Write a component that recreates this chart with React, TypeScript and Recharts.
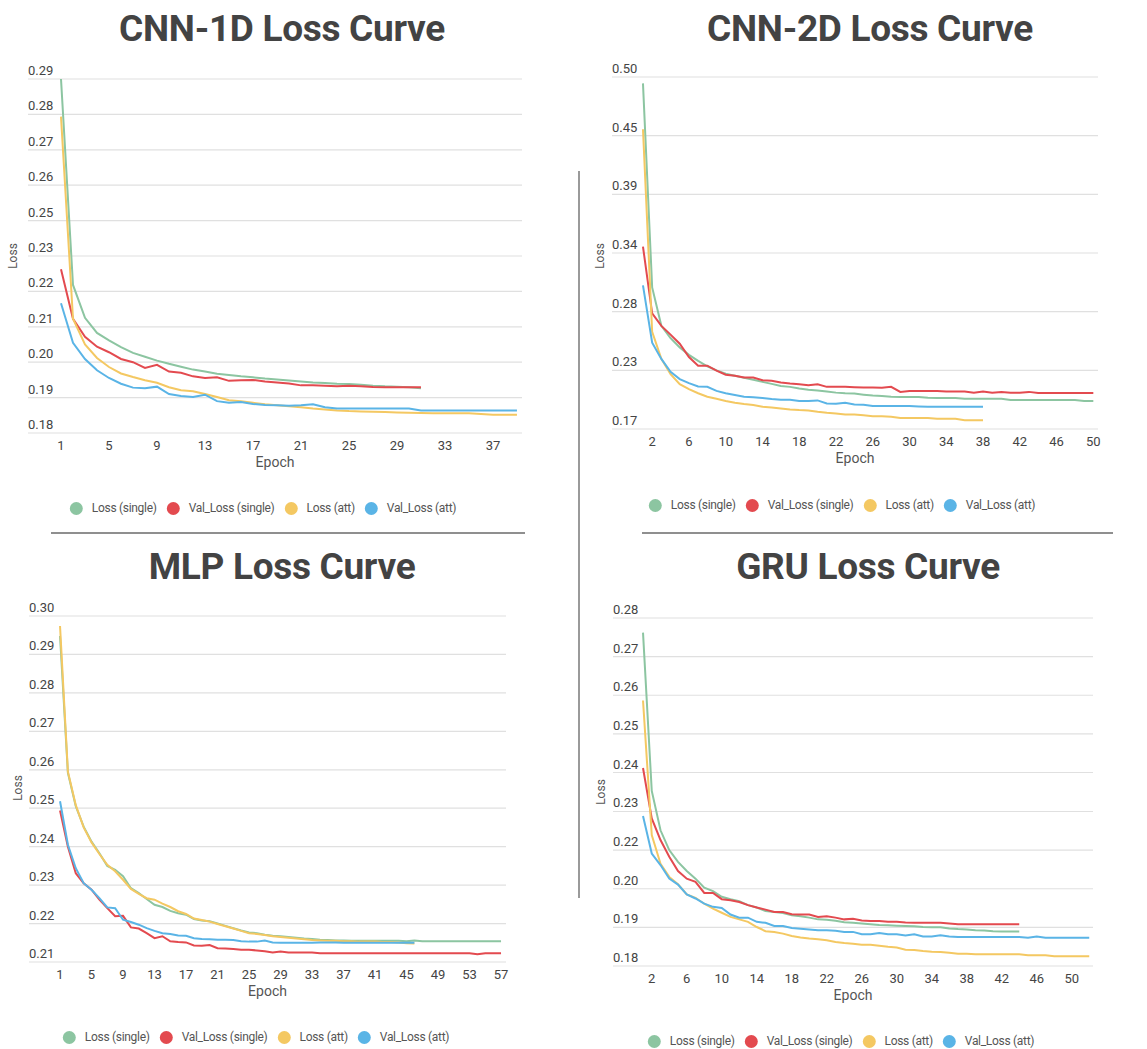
import React from 'react';
import { LineChart, Line, XAxis, YAxis, CartesianGrid } from 'recharts';

// shared series info
const seriesKeys = ['lossSingle', 'valSingle', 'lossAtt', 'valAtt'];
const seriesNames = ['Loss (single)', 'Val_Loss (single)', 'Loss (att)', 'Val_Loss (att)'];
const seriesColors = ['#8cc5a1', '#e34a4f', '#f4c862', '#5ab4e6'];

// CNN-1D
const cnn1dLossSingle = [0.290, 0.226, 0.2158, 0.2111, 0.2088, 0.2067, 0.2049, 0.2037, 0.2025, 0.2015, 0.2006, 0.1997, 0.1991, 0.1984, 0.198, 0.1976, 0.1973, 0.1969, 0.1966, 0.1963, 0.196, 0.1957, 0.1955, 0.1953, 0.1952, 0.195, 0.1947, 0.1945, 0.1944, 0.1942, 0.1939];
const cnn1dValSingle = [0.2309, 0.2155, 0.2099, 0.2068, 0.2051, 0.203, 0.202, 0.2002, 0.2012, 0.1991, 0.1987, 0.1976, 0.1971, 0.1973, 0.1962, 0.1964, 0.1965, 0.196, 0.1957, 0.1954, 0.1948, 0.1948, 0.1947, 0.1945, 0.1947, 0.1945, 0.1943, 0.1942, 0.1942, 0.1942, 0.1942];
const cnn1dLossAtt = [0.2783, 0.2155, 0.2075, 0.2033, 0.2005, 0.1985, 0.1974, 0.1964, 0.1956, 0.1942, 0.1933, 0.193, 0.1921, 0.1912, 0.1902, 0.1899, 0.1894, 0.1889, 0.1886, 0.1883, 0.188, 0.1876, 0.1873, 0.187, 0.1868, 0.1867, 0.1866, 0.1865, 0.1864, 0.1863, 0.1862, 0.1861, 0.1861, 0.1861, 0.1861, 0.1859, 0.1857, 0.1857, 0.1857];
const cnn1dValAtt = [0.2203, 0.208, 0.203, 0.1995, 0.1971, 0.1953, 0.1941, 0.1939, 0.1944, 0.1921, 0.1915, 0.1912, 0.1919, 0.1899, 0.1894, 0.1896, 0.189, 0.1887, 0.1886, 0.1885, 0.1886, 0.1889, 0.188, 0.1876, 0.1876, 0.1876, 0.1876, 0.1876, 0.1876, 0.1876, 0.187, 0.187, 0.187, 0.187, 0.187, 0.187, 0.187, 0.187, 0.187];
const cnn1dYTicks = [0.18, 0.191, 0.202, 0.213, 0.224, 0.235, 0.246, 0.257, 0.268, 0.279, 0.29];
const cnn1dYLabels = ['0.18', '0.19', '0.20', '0.21', '0.22', '0.23', '0.25', '0.26', '0.27', '0.28', '0.29'];
const cnn1dXTicks = [1, 5, 9, 13, 17, 21, 25, 29, 33, 37];

// CNN-2D
const cnn2dLossSingle = [0.494, 0.3027, 0.2667, 0.2553, 0.2465, 0.2395, 0.2338, 0.2288, 0.225, 0.2218, 0.2199, 0.218, 0.2161, 0.2142, 0.2123, 0.2104, 0.2095, 0.2079, 0.2067, 0.206, 0.2051, 0.2041, 0.2035, 0.2032, 0.2022, 0.2013, 0.201, 0.2003, 0.2, 0.2, 0.2, 0.1994, 0.1991, 0.1991, 0.1991, 0.1984, 0.1984, 0.1984, 0.1984, 0.1984, 0.1972, 0.1972, 0.1972, 0.1972, 0.1972, 0.1972, 0.1972, 0.1972, 0.1962, 0.1962];
const cnn2dValSingle = [0.341, 0.2784, 0.2667, 0.2585, 0.25, 0.2375, 0.2294, 0.2294, 0.2247, 0.2209, 0.2199, 0.2183, 0.2183, 0.2158, 0.2152, 0.2136, 0.2127, 0.212, 0.2111, 0.212, 0.2095, 0.2095, 0.2095, 0.2092, 0.2089, 0.2089, 0.2086, 0.2095, 0.2048, 0.2057, 0.2057, 0.2057, 0.2057, 0.2051, 0.2051, 0.2051, 0.2041, 0.2051, 0.2041, 0.2048, 0.2041, 0.2041, 0.2048, 0.2038, 0.2038, 0.2038, 0.2038, 0.2038, 0.2038, 0.2038];
const cnn2dLossAtt = [0.451, 0.261, 0.2357, 0.2215, 0.212, 0.2073, 0.2035, 0.2003, 0.1984, 0.1962, 0.1946, 0.1934, 0.1924, 0.1909, 0.1902, 0.1893, 0.1883, 0.1877, 0.1874, 0.1861, 0.1852, 0.1845, 0.1836, 0.1836, 0.183, 0.182, 0.182, 0.1814, 0.1804, 0.1804, 0.1804, 0.1804, 0.1795, 0.1795, 0.1795, 0.1782, 0.1782, 0.1782];
const cnn2dValAtt = [0.3046, 0.2509, 0.2357, 0.2237, 0.2168, 0.213, 0.2098, 0.2095, 0.2057, 0.2035, 0.2019, 0.2003, 0.1997, 0.1991, 0.1981, 0.1975, 0.1975, 0.1962, 0.1962, 0.1968, 0.194, 0.1937, 0.1946, 0.193, 0.1927, 0.1915, 0.1915, 0.1915, 0.1915, 0.1915, 0.1912, 0.1909, 0.1909, 0.1909, 0.1909, 0.1909, 0.1909, 0.1909];
const cnn2dYTicks = [0.17, 0.225, 0.28, 0.335, 0.39, 0.445, 0.5];
const cnn2dYLabels = ['0.17', '0.23', '0.28', '0.34', '0.39', '0.45', '0.50'];
const cnn2dXTicks = [2, 6, 10, 14, 18, 22, 26, 30, 34, 38, 42, 46, 50];

// MLP
const mlpLossSingle = [0.2948, 0.2592, 0.2505, 0.2452, 0.2413, 0.2383, 0.235, 0.234, 0.2323, 0.2292, 0.2279, 0.2264, 0.2249, 0.2243, 0.2233, 0.2227, 0.2223, 0.2212, 0.2208, 0.2206, 0.22, 0.2194, 0.2188, 0.2182, 0.2177, 0.2175, 0.2171, 0.2168, 0.2167, 0.2165, 0.2163, 0.2161, 0.216, 0.2158, 0.2157, 0.2156, 0.2156, 0.2155, 0.2155, 0.2155, 0.2155, 0.2155, 0.2155, 0.2155, 0.2154, 0.2156, 0.2154, 0.2154, 0.2154, 0.2154, 0.2154, 0.2154, 0.2154, 0.2154, 0.2154, 0.2154, 0.2154];
const mlpValSingle = [0.2494, 0.24, 0.2331, 0.2305, 0.2288, 0.2262, 0.224, 0.2219, 0.222, 0.219, 0.2187, 0.2175, 0.2162, 0.2167, 0.2154, 0.2152, 0.2151, 0.2143, 0.2142, 0.2144, 0.2136, 0.2135, 0.2134, 0.2132, 0.2132, 0.213, 0.2128, 0.2125, 0.2127, 0.2125, 0.2125, 0.2125, 0.2125, 0.2123, 0.2123, 0.2123, 0.2123, 0.2123, 0.2123, 0.2123, 0.2123, 0.2123, 0.2123, 0.2123, 0.2123, 0.2123, 0.2123, 0.2123, 0.2123, 0.2123, 0.2123, 0.2123, 0.2123, 0.212, 0.2123, 0.2123, 0.2123];
const mlpLossAtt = [0.2974, 0.2595, 0.2508, 0.245, 0.2411, 0.2381, 0.2353, 0.2336, 0.2314, 0.229, 0.2277, 0.2266, 0.2262, 0.2252, 0.2243, 0.2232, 0.2225, 0.2213, 0.2209, 0.2205, 0.2199, 0.2193, 0.2187, 0.2181, 0.2175, 0.2173, 0.217, 0.2167, 0.2165, 0.2163, 0.2161, 0.2159, 0.2157, 0.2156, 0.2155, 0.2155, 0.2154, 0.2154, 0.2153, 0.2153, 0.2153, 0.2152, 0.2152, 0.2151, 0.2149, 0.2148];
const mlpValAtt = [0.2518, 0.2405, 0.2344, 0.2305, 0.2288, 0.2266, 0.2242, 0.224, 0.221, 0.2204, 0.2197, 0.2188, 0.2181, 0.2175, 0.2173, 0.2169, 0.2168, 0.2162, 0.216, 0.2159, 0.2158, 0.2158, 0.2157, 0.2154, 0.2153, 0.2153, 0.2156, 0.2151, 0.215, 0.215, 0.215, 0.215, 0.215, 0.2151, 0.2151, 0.2151, 0.215, 0.215, 0.215, 0.215, 0.215, 0.215, 0.215, 0.215, 0.215, 0.215];
const mlpYTicks = [0.21, 0.22, 0.23, 0.24, 0.25, 0.26, 0.27, 0.28, 0.29, 0.3];
const mlpYLabels = ['0.21', '0.22', '0.23', '0.24', '0.25', '0.26', '0.27', '0.28', '0.29', '0.30'];
const mlpXTicks = [1, 5, 9, 13, 17, 21, 25, 29, 33, 37, 41, 45, 49, 53, 57];

// GRU
const gruLossSingle = [0.2758, 0.2303, 0.219, 0.2133, 0.2099, 0.2073, 0.2051, 0.2025, 0.2015, 0.1999, 0.1992, 0.1986, 0.1975, 0.1968, 0.1958, 0.1955, 0.1952, 0.1946, 0.1943, 0.1939, 0.1934, 0.1933, 0.193, 0.1926, 0.1924, 0.1922, 0.192, 0.1918, 0.1917, 0.1916, 0.1915, 0.1914, 0.1912, 0.1911, 0.1911, 0.1908, 0.1906, 0.1905, 0.1903, 0.1902, 0.19, 0.1899, 0.1899, 0.1899];
const gruValSingle = [0.2369, 0.2224, 0.2162, 0.2114, 0.2073, 0.2051, 0.2042, 0.201, 0.201, 0.1992, 0.1989, 0.1984, 0.1975, 0.1968, 0.1962, 0.1955, 0.1955, 0.1949, 0.1948, 0.1948, 0.1941, 0.1943, 0.1939, 0.1934, 0.1936, 0.1931, 0.1929, 0.1929, 0.1927, 0.1927, 0.1925, 0.1924, 0.1924, 0.1924, 0.1924, 0.1922, 0.192, 0.192, 0.192, 0.192, 0.192, 0.192, 0.192, 0.192];
const gruLossAtt = [0.2563, 0.2176, 0.2094, 0.2056, 0.2035, 0.2006, 0.1996, 0.1979, 0.1965, 0.1953, 0.1941, 0.1934, 0.1927, 0.1912, 0.19, 0.1898, 0.1893, 0.1886, 0.1882, 0.1879, 0.1877, 0.1874, 0.1869, 0.1866, 0.1864, 0.1861, 0.1861, 0.1858, 0.1855, 0.1853, 0.1847, 0.1846, 0.1843, 0.1841, 0.184, 0.1838, 0.1835, 0.1835, 0.1834, 0.1834, 0.1834, 0.1834, 0.1834, 0.1834, 0.1831, 0.1831, 0.1831, 0.1828, 0.1828, 0.1828, 0.1828, 0.1828];
const gruValAtt = [0.2231, 0.2123, 0.209, 0.2051, 0.2034, 0.2006, 0.1994, 0.1979, 0.197, 0.1967, 0.1948, 0.1939, 0.1939, 0.1927, 0.1924, 0.1915, 0.1915, 0.1909, 0.1907, 0.1905, 0.1903, 0.1903, 0.1901, 0.1898, 0.1898, 0.1891, 0.1891, 0.1895, 0.1891, 0.1891, 0.1888, 0.1891, 0.1885, 0.1885, 0.1888, 0.1885, 0.1883, 0.1883, 0.1883, 0.1883, 0.1883, 0.1883, 0.1883, 0.1883, 0.1881, 0.1885, 0.1881, 0.1881, 0.1881, 0.1881, 0.1881, 0.1881];
const gruYTicks = [0.18, 0.1911, 0.2022, 0.2133, 0.2244, 0.2356, 0.2467, 0.2578, 0.2689, 0.28];
const gruYLabels = ['0.18', '0.19', '0.20', '0.22', '0.23', '0.24', '0.25', '0.26', '0.27', '0.28'];
const gruXTicks = [2, 6, 10, 14, 18, 22, 26, 30, 34, 38, 42, 46, 50];

const PAD = 20;
const AXIS_H = 40;

function buildRows(series: number[][]) {
  const n = Math.max(...series.map((s) => s.length));
  return Array.from({ length: n }, (_, i) => {
    const row: Record<string, number | undefined> = { epoch: i + 1 };
    series.forEach((s, k) => {
      row[seriesKeys[k]] = s[i];
    });
    return row;
  });
}

type Box = { l: number; r: number; t: number; b: number };

interface PanelProps {
  title: string;
  series: number[][];
  yTicks: number[];
  yLabels: string[];
  xTicks: number[];
  xDomain: [number, number];
  plot: Box;
  titleX: number;
  titleTop: number;
  legendX: number;
  legendY: number;
  lossX: number;
  lossY: number;
}

const Panel: React.FC<PanelProps> = ({ title, series, yTicks, yLabels, xTicks, xDomain, plot, titleX, titleTop, legendX, legendY, lossX, lossY }) => {
  const rows = buildRows(series);
  const yTick = (props: any) => {
    let idx = yTicks.indexOf(props.payload?.value);
    if (idx < 0) idx = props.index;
    return (
      <text x={PAD} y={props.y - 4} fill="#444" fontSize={13} textAnchor="start">
        {yLabels[idx]}
      </text>
    );
  };
  return (
    <>
      <div
        style={{
          position: 'absolute', left: titleX - 260, top: titleTop, width: 520, textAlign: 'center',
          fontSize: 37, lineHeight: '37px', fontWeight: 700, color: '#434343', letterSpacing: -0.3,
        }}
      >
        {title}
      </div>
      <div
        style={{
          position: 'absolute', left: lossX, top: lossY, fontSize: 12, color: '#555',
          transform: 'translate(-50%, -50%) rotate(-90deg)', whiteSpace: 'nowrap',
        }}
      >
        Loss
      </div>
      <div style={{ position: 'absolute', left: plot.l - PAD, top: plot.t - PAD }}>
        <LineChart
          width={plot.r - plot.l + 2 * PAD}
          height={plot.b - plot.t + PAD + AXIS_H + 4}
          data={rows}
          margin={{ top: PAD, right: PAD, bottom: 4, left: PAD - 1 }}
        >
          <CartesianGrid vertical={false} stroke="#e0e0e0" strokeWidth={1.2} />
          <XAxis
            dataKey="epoch"
            type="number"
            domain={xDomain}
            ticks={xTicks}
            interval={0}
            allowDataOverflow
            axisLine={false}
            tickLine={false}
            height={AXIS_H}
            tick={{ fontSize: 13, fill: '#444' }}
            label={{ value: 'Epoch', position: 'insideBottom', offset: 6, fill: '#555', fontSize: 14 }}
          />
          <YAxis
            type="number"
            domain={[yTicks[0], yTicks[yTicks.length - 1]]}
            ticks={yTicks}
            interval={0}
            allowDataOverflow
            width={1}
            axisLine={false}
            tickLine={false}
            tick={yTick}
          />
          {seriesKeys.map((k, i) => (
            <Line
              key={k}
              type="linear"
              dataKey={k}
              name={seriesNames[i]}
              stroke={seriesColors[i]}
              strokeWidth={2}
              dot={false}
              isAnimationActive={false}
            />
          ))}
        </LineChart>
      </div>
      <div
        style={{
          position: 'absolute', left: legendX, top: legendY, transform: 'translate(-50%, -50%)',
          display: 'flex', alignItems: 'center', whiteSpace: 'nowrap', fontSize: 12, color: '#555', letterSpacing: -0.3,
        }}
      >
        {seriesNames.map((n, i) => (
          <div key={n} style={{ display: 'flex', alignItems: 'center', marginRight: i < 3 ? 10 : 0 }}>
            <span style={{ width: 13, height: 13, borderRadius: '50%', background: seriesColors[i], marginRight: 9, display: 'inline-block' }} />
            <span>{n}</span>
          </div>
        ))}
      </div>
    </>
  );
};

export default function App() {
  return (
    <div
      style={{
        position: 'absolute', left: 0, top: 0, width: 1147, height: 1049, background: '#fff',
        fontFamily: 'Roboto, "Noto Sans", sans-serif', overflow: 'hidden',
      }}
    >
      <Panel
        title="CNN-1D Loss Curve"
        series={[cnn1dLossSingle, cnn1dValSingle, cnn1dLossAtt, cnn1dValAtt]}
        yTicks={cnn1dYTicks}
        yLabels={cnn1dYLabels}
        xTicks={cnn1dXTicks}
        xDomain={[-1.75, 39.42]}
        plot={{ l: 28, r: 522, t: 79, b: 433 }}
        titleX={282}
        titleTop={10}
        legendX={263}
        legendY={508}
        lossX={13}
        lossY={256}
      />
      <Panel
        title="CNN-2D Loss Curve"
        series={[cnn2dLossSingle, cnn2dValSingle, cnn2dLossAtt, cnn2dValAtt]}
        yTicks={cnn2dYTicks}
        yLabels={cnn2dYLabels}
        xTicks={cnn2dXTicks}
        xDomain={[-2.37, 50.51]}
        plot={{ l: 612, r: 1098, t: 77, b: 429 }}
        titleX={870}
        titleTop={10}
        legendX={842}
        legendY={505}
        lossX={600}
        lossY={256}
      />
      <Panel
        title="MLP Loss Curve"
        series={[mlpLossSingle, mlpValSingle, mlpLossAtt, mlpValAtt]}
        yTicks={mlpYTicks}
        yLabels={mlpYLabels}
        xTicks={mlpXTicks}
        xDomain={[-2.94, 57.63]}
        plot={{ l: 29, r: 506, t: 616, b: 962 }}
        titleX={282}
        titleTop={548}
        legendX={256}
        legendY={1037}
        lossX={18}
        lossY={788}
      />
      <Panel
        title="GRU Loss Curve"
        series={[gruLossSingle, gruValSingle, gruLossAtt, gruValAtt]}
        yTicks={gruYTicks}
        yLabels={gruYLabels}
        xTicks={gruXTicks}
        xDomain={[-2.43, 52.43]}
        plot={{ l: 613, r: 1093, t: 618, b: 966 }}
        titleX={868}
        titleTop={548}
        legendX={841}
        legendY={1041}
        lossX={601}
        lossY={792}
      />
      {/* separators */}
      <div style={{ position: 'absolute', left: 51, top: 532, width: 474, height: 2, background: '#8f8f8f' }} />
      <div style={{ position: 'absolute', left: 642, top: 532, width: 471, height: 2, background: '#8f8f8f' }} />
      <div style={{ position: 'absolute', left: 578, top: 171, width: 2, height: 727, background: '#9a9a9a' }} />
    </div>
  );
}
